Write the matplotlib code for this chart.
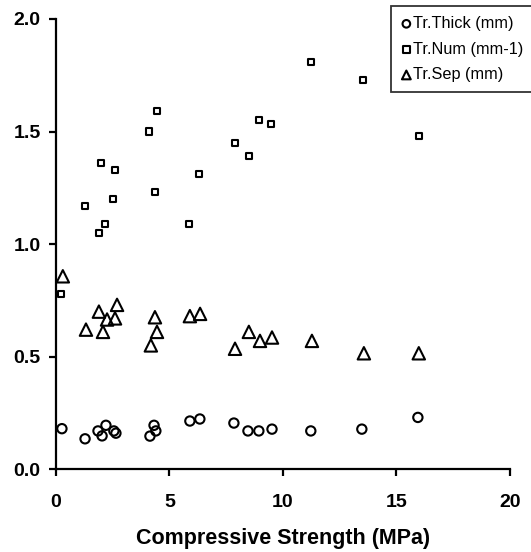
import matplotlib
matplotlib.use('Agg')
import matplotlib.pyplot as plt

plt.rcParams['font.family'] = ['Liberation Sans', 'DejaVu Sans']

# Tr.Thick (mm)
thick_x = [0.26, 1.28, 1.85, 2.03, 2.2, 2.55, 2.64, 4.14, 4.32, 4.4, 5.9, 6.34, 7.84, 8.46, 8.94, 9.52, 11.23, 13.48, 15.95]
thick_y = [0.18, 0.135, 0.17, 0.148, 0.195, 0.17, 0.16, 0.147, 0.195, 0.17, 0.214, 0.223, 0.205, 0.17, 0.17, 0.178, 0.17, 0.178, 0.23]

# Tr.Num (mm-1)
num_x = [0.22, 1.28, 1.89, 1.98, 2.16, 2.51, 2.6, 4.1, 4.36, 4.45, 5.86, 6.3, 7.89, 8.5, 8.94, 9.47, 11.23, 13.52, 15.99]
num_y = [0.777, 1.17, 1.05, 1.36, 1.09, 1.2, 1.33, 1.5, 1.23, 1.59, 1.09, 1.31, 1.45, 1.39, 1.55, 1.535, 1.81, 1.73, 1.48]

# Tr.Sep (mm)
sep_x = [0.3, 1.32, 1.89, 2.07, 2.25, 2.6, 2.69, 4.18, 4.36, 4.45, 5.9, 6.35, 7.89, 8.5, 8.99, 9.52, 11.28, 13.57, 15.99]
sep_y = [0.857, 0.62, 0.70, 0.61, 0.665, 0.67, 0.73, 0.55, 0.675, 0.61, 0.68, 0.69, 0.535, 0.61, 0.57, 0.585, 0.57, 0.515, 0.515]

fig = plt.figure(figsize=(5.31, 5.52), dpi=100)
ax = fig.add_axes([0.1055, 0.150, 0.8545, 0.8156])

ax.scatter(thick_x, thick_y, marker='o', s=45, facecolors='none', edgecolors='black', linewidths=1.5, label='Tr.Thick (mm)')
ax.scatter(num_x, num_y, marker='s', s=20, facecolors='none', edgecolors='black', linewidths=1.5, label='Tr.Num (mm-1)')
ax.scatter(sep_x, sep_y, marker='^', s=80, facecolors='none', edgecolors='black', linewidths=1.5, label='Tr.Sep (mm)')

ax.set_xlim(0, 20)
ax.set_ylim(0, 2.0)
ax.set_xticks([0, 5, 10, 15, 20])
ax.set_yticks([0.0, 0.5, 1.0, 1.5, 2.0])
ax.set_yticklabels(['0.0', '0.5', '1.0', '1.5', '2.0'])
ax.spines['top'].set_visible(False)
ax.spines['right'].set_visible(False)
for s in ['left', 'bottom']:
    ax.spines[s].set_linewidth(1.6)
ax.tick_params(direction='out', length=5, width=1.6, labelsize=14)
ax.tick_params(axis='x', pad=13)
ax.tick_params(axis='y', pad=6)
for lbl in ax.get_xticklabels() + ax.get_yticklabels():
    lbl.set_fontweight('bold')
ax.set_xlabel('Compressive Strength (MPa)', fontsize=15.5, fontweight='bold', labelpad=12)

leg = ax.legend(loc='upper left', bbox_to_anchor=(391 / 531, 1 - 6 / 552), bbox_transform=fig.transFigure,
                frameon=True, fancybox=False, edgecolor='black', fontsize=11.7, handletextpad=0.1,
                borderpad=0.62, labelspacing=0.65, handlelength=0.65, borderaxespad=0)
leg.get_frame().set_linewidth(1.3)
for h, sz in zip(leg.legend_handles, [30, 22, 40]):
    h.set_sizes([sz])

fig.savefig('out.png', dpi=100)
